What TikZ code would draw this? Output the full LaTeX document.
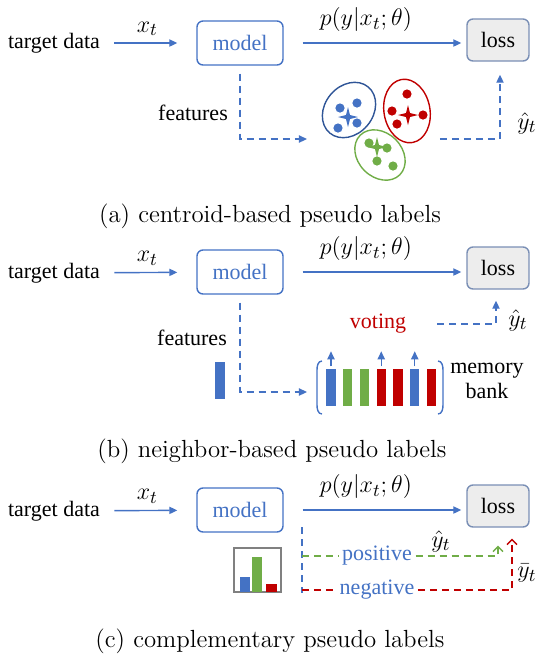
\documentclass[tikz,border=0pt]{standalone}
\usepackage{fontspec}
\setmainfont{Liberation Serif}
\newfontfamily\lmr{Latin Modern Roman}
\usetikzlibrary{arrows.meta}

\definecolor{cblue}{HTML}{4472C4}
\definecolor{cred}{HTML}{C00000}
\definecolor{cgreen}{HTML}{70AD47}
\definecolor{cnavy}{HTML}{2F5597}
\definecolor{cgray}{HTML}{EDEDED}
\definecolor{cedge}{HTML}{7A8FB5}

\tikzset{star4/.pic={
  \fill (0,-10) -- (2,-2) -- (10,0) -- (2,2) -- (0,10) -- (-2,2) -- (-10,0) -- (-2,-2) -- cycle;
}}

\begin{document}
\begin{tikzpicture}[x=0.5pt,y=-0.5pt,line width=0.7pt,
  every node/.style={font=\rmfamily\fontsize{11}{12.5}\selectfont},
  model/.style={draw=cblue,rounded corners=3pt,text=cblue,minimum width=43pt,minimum height=22pt},
  lossbox/.style={draw=cedge,fill=cgray,rounded corners=3pt,minimum width=31pt,minimum height=21pt},
  post/.style={->,>={Triangle[length=4pt,width=3.6pt]},cblue},
  flow/.style={->,>={Triangle[length=4pt,width=3.6pt]},cblue,dash pattern=on 3.5pt off 2.5pt},
  gflow/.style={->,>={Straight Barb[length=2.5pt,width=5pt]},cgreen,dash pattern=on 3.5pt off 2.5pt},
  rflow/.style={->,>={Straight Barb[length=2.5pt,width=5pt]},cred,dash pattern=on 3.5pt off 2.5pt},
  mathlbl/.style={text=black,font=\fontsize{12.5}{14}\selectfont},
  caption/.style={font=\lmr\fontsize{12.4}{15}\selectfont}]

\useasboundingbox (0,0) rectangle (542,661);

% (a) centroid-based
\node (td1) at (54,43) {target data};
\node[model] (m1) at (240,43) {model};
\node[lossbox] (l1) at (498,40) {loss};
\draw[post,shorten <=3.5pt,shorten >=9.5pt] (td1) -- node[above,mathlbl,pos=.45] (xt1) {$x_t$} (m1);
\draw[post,shorten <=9.5pt,shorten >=2.5pt] (m1.east) -- node[above,mathlbl,pos=.45,yshift=2pt] (pr1) {$p(y|x_t;\theta)$} (l1.west |- m1.east);
\node (f1) at (193,113) {features};
\coordinate (c1) at (307,139);
\draw[flow,shorten <=4pt] (m1.south) |- (c1);
\coordinate (p1) at (440,139);
\draw[flow,shorten >=6.5pt] (p1) -| ([xshift=1pt]l1.south);
\node[mathlbl] (yh1) at (527,123) {$\hat{y}_t$};

\draw[cnavy,rotate around={50:(349,110)}] (349,110) ellipse (30 and 24);
\draw[cred,rotate around={100:(407,111)}] (407,111) ellipse (32 and 23);
\draw[cgreen,rotate around={-45:(380,155)}] (380,155) ellipse (28 and 22);
\foreach \x/\y in {340/108, 357/103, 338/128, 357/123}
  \fill[cblue] (\x,\y) circle (4.6);
\foreach \x/\y in {407/94, 392/111, 423/115, 397/124}
  \fill[cred] (\x,\y) circle (4.6);
\foreach \x/\y in {369/143, 387/148, 377/161, 393/166}
  \fill[cgreen] (\x,\y) circle (4.6);
\pic[cblue] at (348,117) {star4};
\pic[cred] at (408,115) {star4};
\pic[cgreen] at (377,147) {star4};

\node[caption] (cap1) at (270,216) {(a) centroid-based pseudo labels};

% (b) neighbor-based
\node (td2) at (54,273) {target data};
\node[model] (m2) at (240,272) {model};
\node[lossbox] (l2) at (498,268) {loss};
\draw[post,shorten <=3.5pt,shorten >=9.5pt] (td2) -- node[above,mathlbl,pos=.45] (xt2) {$x_t$} (m2);
\draw[post,shorten <=9.5pt,shorten >=2.5pt] (m2.east) -- node[above,mathlbl,pos=.45,yshift=2pt] (pr2) {$p(y|x_t;\theta)$} (l2.west |- m2.east);
\node (f2) at (192,338) {features};
\node[fill=cblue,inner sep=0,minimum width=5pt,minimum height=18.5pt] (fb2) at (220,380) {};
\coordinate (c2) at (307,392);
\draw[flow,shorten <=4pt] (m2.south) |- (c2);

\foreach \i/\c in {1/cblue,2/cgreen,3/cgreen,4/cred,5/cred,6/cblue,7/cred}
  \node[fill=\c,inner sep=0,minimum width=4.6pt,minimum height=18.5pt] (b\i) at ({314.25+16.75*\i},387.5) {};
\foreach \i in {1,4,6}
  \draw[post,shorten <=1pt] (b\i.north) -- ++(0,-17);
\draw[cblue] (322,361) to[out=180,in=90] (317,370) -- (317,405) to[out=-90,in=180] (322,414);
\draw[cblue] (438,361) to[out=0,in=90] (443,370) -- (443,405) to[out=-90,in=0] (438,414);
\node[align=center] (mb) at (487,381) {memory\\bank};

\node[text=cred] (vote) at (378,324) {voting};
\draw[flow,shorten <=12pt,shorten >=5.5pt] (vote.east) -| ([xshift=-1pt]l2.south);
\node[mathlbl] (yh2) at (518,320) {$\hat{y}_t$};

\node[caption] (cap2) at (272,451) {(b) neighbor-based pseudo labels};

% (c) complementary
\node (td3) at (54,511) {target data};
\node[model] (m3) at (240,510) {model};
\node[lossbox] (l3) at (498,506) {loss};
\draw[post,shorten <=3.5pt,shorten >=9.5pt] (td3) -- node[above,mathlbl,pos=.45] (xt3) {$x_t$} (m3);
\draw[post,shorten <=9.5pt,shorten >=2.5pt] (m3.east) -- node[above,mathlbl,pos=.45,yshift=2pt] (pr3) {$p(y|x_t;\theta)$} (l3.west |- m3.east);

\node[draw=gray,line width=1pt,inner sep=0,minimum width=23.5pt,minimum height=22pt] (hist) at (257.5,570) {};
\foreach \a/\b/\h/\c in {240/250/577/cblue, 252/262/557/cgreen, 266/277/584/cred}
  \fill[\c] (\a,592) rectangle (\b,\h);

\coordinate (v3a) at (302,527);
\coordinate (v3b) at (302,593);
\draw[cblue,dash pattern=on 3.5pt off 2.5pt] (v3a) -- (v3b);
\node[text=cblue,inner sep=1.5pt] (pos) at (377,556) {positive};
\node[text=cblue,inner sep=1.5pt] (neg) at (377,590) {negative};
\draw[cgreen,dash pattern=on 3.5pt off 2.5pt] (pos.west -| v3a) -- (pos.west);
\draw[gflow,shorten >=9pt] (pos.east) -| (l3.south);
\draw[cred,dash pattern=on 3.5pt off 2.5pt] (neg.west -| v3a) -- (neg.west);
\draw[rflow,shorten >=5.5pt] (neg.east) -| ([xshift=7pt]l3.south);
\node[mathlbl] (yh3) at (441,541) {$\hat{y}_t$};
\node[mathlbl] (yb3) at (527,573) {$\bar{y}_t$};

\node[caption] (cap3) at (270,641) {(c) complementary pseudo labels};

\end{tikzpicture}
\end{document}
